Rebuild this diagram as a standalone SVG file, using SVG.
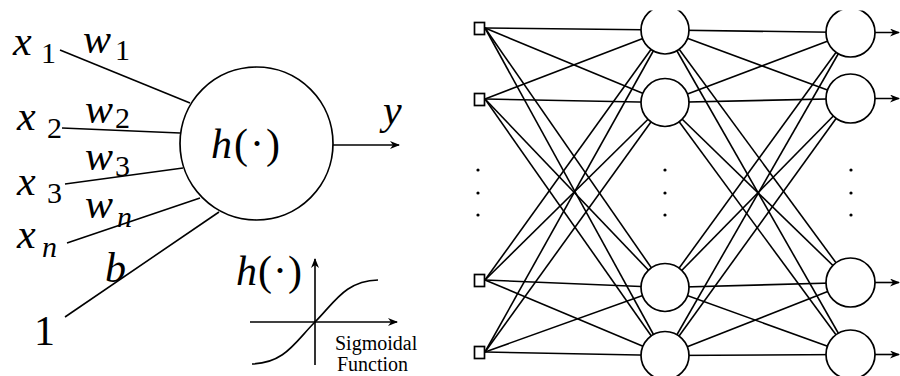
<svg xmlns="http://www.w3.org/2000/svg" width="900" height="376" viewBox="0 0 900 376">
<style>
.ln{stroke:#000;stroke-width:1.6;fill:none}
.nd{stroke:#000;stroke-width:1.7;fill:#fff}
.m{font-style:italic;font-size:42px;fill:#000}
.r{font-style:normal}
.sub{font-size:30px}
.dot{fill:#000}
.small{font-size:20px;fill:#000}
</style>
<defs>
<marker id="ah" viewBox="0 0 10 8" refX="9" refY="4" markerWidth="10" markerHeight="8" markerUnits="userSpaceOnUse" orient="auto"><path d="M0,0 L10,4 L0,8 L3,4 z" fill="#000"/></marker>
<clipPath id="netclip"><rect x="460" y="10.5" width="440" height="370"/></clipPath>
</defs>
<rect width="900" height="376" fill="#fff"/>

<g id="connectors">
  <g id="neuron-connectors" class="ln">
    <line x1="60" y1="50" x2="190" y2="103"/>
    <line x1="62" y1="128" x2="180" y2="133"/>
    <line x1="65" y1="184" x2="183" y2="168"/>
    <line x1="67" y1="243" x2="200" y2="198"/>
    <line x1="65" y1="317" x2="219" y2="212"/>
    <line x1="333" y1="145" x2="399" y2="145" marker-end="url(#ah)"/>
  </g>
  <g id="network-connectors" class="ln" clip-path="url(#netclip)">
    <line x1="485" y1="28" x2="665" y2="30"/>
    <line x1="485" y1="28" x2="665" y2="102.5"/>
    <line x1="485" y1="28" x2="665" y2="287.5"/>
    <line x1="485" y1="28" x2="665" y2="355.5"/>
    <line x1="485" y1="99" x2="665" y2="30"/>
    <line x1="485" y1="99" x2="665" y2="102.5"/>
    <line x1="485" y1="99" x2="665" y2="287.5"/>
    <line x1="485" y1="99" x2="665" y2="355.5"/>
    <line x1="485" y1="280" x2="665" y2="30"/>
    <line x1="485" y1="280" x2="665" y2="102.5"/>
    <line x1="485" y1="280" x2="665" y2="287.5"/>
    <line x1="485" y1="280" x2="665" y2="355.5"/>
    <line x1="485" y1="352" x2="665" y2="30"/>
    <line x1="485" y1="352" x2="665" y2="102.5"/>
    <line x1="485" y1="352" x2="665" y2="287.5"/>
    <line x1="485" y1="352" x2="665" y2="355.5"/>
    <line x1="665" y1="30" x2="850.5" y2="32.5"/>
    <line x1="665" y1="30" x2="850.5" y2="98.5"/>
    <line x1="665" y1="30" x2="850.5" y2="282.5"/>
    <line x1="665" y1="30" x2="850.5" y2="354.5"/>
    <line x1="665" y1="102.5" x2="850.5" y2="32.5"/>
    <line x1="665" y1="102.5" x2="850.5" y2="98.5"/>
    <line x1="665" y1="102.5" x2="850.5" y2="282.5"/>
    <line x1="665" y1="102.5" x2="850.5" y2="354.5"/>
    <line x1="665" y1="287.5" x2="850.5" y2="32.5"/>
    <line x1="665" y1="287.5" x2="850.5" y2="98.5"/>
    <line x1="665" y1="287.5" x2="850.5" y2="282.5"/>
    <line x1="665" y1="287.5" x2="850.5" y2="354.5"/>
    <line x1="665" y1="355.5" x2="850.5" y2="32.5"/>
    <line x1="665" y1="355.5" x2="850.5" y2="98.5"/>
    <line x1="665" y1="355.5" x2="850.5" y2="282.5"/>
    <line x1="665" y1="355.5" x2="850.5" y2="354.5"/>
    <line x1="875" y1="32.5" x2="899" y2="32.5" marker-end="url(#ah)"/>
    <line x1="875" y1="98.5" x2="899" y2="98.5" marker-end="url(#ah)"/>
    <line x1="875" y1="282.5" x2="899" y2="282.5" marker-end="url(#ah)"/>
    <line x1="875" y1="354.5" x2="899" y2="354.5" marker-end="url(#ah)"/>
  </g>
</g>

<g font-family="'Liberation Serif', 'Times New Roman', Tinos, FreeSerif, 'Nimbus Roman', 'DejaVu Serif', serif">
<g id="neuron">
  <circle class="nd" cx="256.5" cy="143.5" r="76.5"/>
  <text class="m" x="211" y="158" font-size="46" letter-spacing="2">h<tspan class="r">(·)</tspan></text>
</g>
<g id="input-labels">
  <text class="m" x="13" y="55">x<tspan class="r sub" x="41" y="63">1</tspan></text>
  <text class="m" x="83" y="53">w<tspan class="r sub" x="115" y="60">1</tspan></text>
  <text class="m" x="17" y="130">x<tspan class="r sub" x="47" y="138">2</tspan></text>
  <text class="m" x="85" y="123">w<tspan class="r sub" x="115" y="128">2</tspan></text>
  <text class="m" x="85" y="170">w<tspan class="r sub" x="115" y="176">3</tspan></text>
  <text class="m" x="17" y="195">x<tspan class="r sub" x="47" y="203">3</tspan></text>
  <text class="m" x="85" y="218">w<tspan class="sub" x="117" y="227">n</tspan></text>
  <text class="m" x="17" y="248">x<tspan class="sub" x="42" y="257">n</tspan></text>
  <text class="m" x="105" y="282">b</text>
  <text class="m r" x="34" y="345" font-size="46">1</text>
</g>
<g id="output-label">
  <text class="m" x="383" y="124">y</text>
</g>
<g id="sigmoid-inset">
  <line class="ln" x1="315" y1="365" x2="315" y2="259" marker-end="url(#ah)"/>
  <line class="ln" x1="250" y1="322" x2="397" y2="322" marker-end="url(#ah)"/>
  <path class="ln" d="M252,364 C285,363 295,342 315,322 C335,302 345,281 378,280"/>
  <text class="m" x="236" y="285" font-size="44" letter-spacing="1">h<tspan class="r">(·)</tspan></text>
  <text class="small" x="335" y="350">Sigmoidal</text>
  <text class="small" x="337" y="371">Function</text>
</g>
</g>

<g id="network" clip-path="url(#netclip)">
  <g id="in1"><rect class="nd" x="474.5" y="22.5" width="10" height="12"/></g>
  <g id="in2"><rect class="nd" x="474.5" y="93.5" width="10" height="12"/></g>
  <g id="in3"><rect class="nd" x="474.5" y="274.5" width="10" height="12"/></g>
  <g id="in4"><rect class="nd" x="474.5" y="346.5" width="10" height="12"/></g>
  <g id="hid1"><circle class="nd" cx="665" cy="30" r="24"/></g>
  <g id="hid2"><circle class="nd" cx="665" cy="102.5" r="24"/></g>
  <g id="hid3"><circle class="nd" cx="665" cy="287.5" r="24"/></g>
  <g id="hid4"><circle class="nd" cx="665" cy="355.5" r="24"/></g>
  <g id="out1"><circle class="nd" cx="850.5" cy="32.5" r="24.5"/></g>
  <g id="out2"><circle class="nd" cx="850.5" cy="98.5" r="24.5"/></g>
  <g id="out3"><circle class="nd" cx="850.5" cy="282.5" r="24.5"/></g>
  <g id="out4"><circle class="nd" cx="850.5" cy="354.5" r="24.5"/></g>
  <g id="dots" class="dot">
    <circle cx="478" cy="170" r="1.6"/><circle cx="478" cy="193" r="1.6"/><circle cx="478" cy="215" r="1.6"/>
    <circle cx="665" cy="170" r="1.6"/><circle cx="665" cy="193" r="1.6"/><circle cx="665" cy="215" r="1.6"/>
    <circle cx="851" cy="170" r="1.6"/><circle cx="851" cy="193" r="1.6"/><circle cx="851" cy="215" r="1.6"/>
  </g>
</g>
</svg>
